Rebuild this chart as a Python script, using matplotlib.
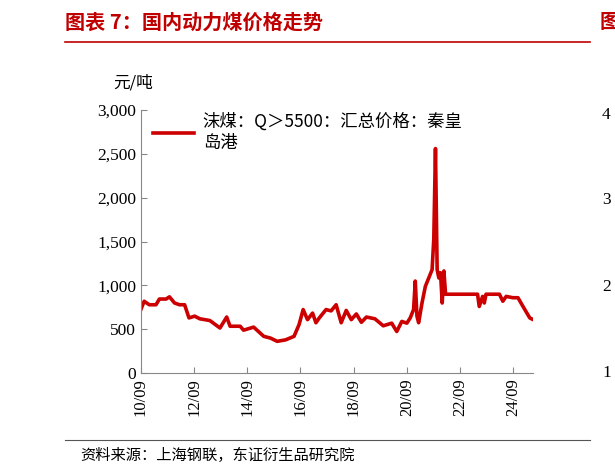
import matplotlib
matplotlib.use("Agg")
import matplotlib.pyplot as plt
from matplotlib.ticker import FuncFormatter

xz = [35,45,60,80,90,110,120,135,150,165,178,195,210,240,270,290,300,330,340,370,400,420,440,465,490,505,517,530,545,555,565,585,600,615,630,645,660,675,690,705,730,755,780,795,810,825,835,845,850,855,860,870,880,890,900,905,910,915,920,925,930,935,940,1035,1040,1050,1055,1060,1100,1110,1120,1140,1155,1170,1190,1200,1210]
values = [725,820,780,780,845,845,870,800,780,780,630,650,620,600,515,640,535,535,490,525,420,400,363,380,420,555,725,610,685,575,630,725,710,780,575,715,610,675,580,640,620,540,570,475,590,570,630,725,1050,650,575,800,990,1085,1180,1530,2560,1180,1085,1145,800,1165,900,900,760,875,800,900,900,820,875,860,860,760,630,610,650]
years = [2010.75 + (x - 35) / 79.0 for x in xz]
tick_pos = [2010.75 + 2 * i for i in range(8)]
tick_labels = ["10/09", "12/09", "14/09", "16/09", "18/09", "20/09", "22/09", "24/09"]
yticks = [0, 500, 1000, 1500, 2000, 2500, 3000]
series_label = "沫煤：Q＞5500：汇总价格：秦皇\n岛港"

cjk = ["Noto Sans CJK SC", "DejaVu Sans"]
serif = ["Liberation Serif", "Noto Sans CJK SC"]

fig = plt.figure(figsize=(6.15, 4.76), dpi=100)
ax = fig.add_axes([0.229, 0.216, 0.638, 0.553])
ax.plot(years, values, color="#cc0000", lw=2.6, label=series_label)
ax.set_xlim(2010.75, 2025.5)
ax.set_ylim(0, 3000)
ax.set_xticks(tick_pos)
ax.set_xticklabels(tick_labels, rotation=90, fontfamily=serif, fontsize=12)
ax.set_yticks(yticks)
ax.yaxis.set_major_formatter(FuncFormatter(lambda v, p: f"{int(v):,}"))
for t in ax.get_yticklabels():
    t.set_fontfamily(serif); t.set_fontsize(12.5)
ax.tick_params(direction="in", length=4, color="#888888")
for s in ["top", "right"]:
    ax.spines[s].set_visible(False)
for s in ["left", "bottom"]:
    ax.spines[s].set_color("#888888")
leg = ax.legend(loc="upper left", frameon=False, prop={"family": cjk, "size": 12.5},
                bbox_to_anchor=(-0.01, 1.05), handlelength=2.4, handletextpad=0.5)
ax.text(-0.07, 1.07, "元/吨", transform=ax.transAxes, fontfamily=cjk, fontsize=12, ha="left", va="bottom")

fig.text(65/615, 1-22/476, "图表 7：国内动力煤价格走势", color="#c00000", fontsize=14.5,
         fontweight="bold", fontfamily=cjk, va="center")
fig.add_artist(plt.Line2D([65/615, 590/615], [1-42/476]*2, color="#c00000", lw=1.2))
fig.add_artist(plt.Line2D([65/615, 590/615], [1-440/476]*2, color="#555555", lw=0.8))
fig.text(80/615, 1-455/476, "资料来源：上海钢联，东证衍生品研究院", fontsize=11, fontfamily=cjk, va="center")
fig.text(600/615, 1-22/476, "图", color="#c00000", fontsize=14.5, fontweight="bold", fontfamily=cjk, va="center")
for lab, yy in [("4", 115), ("3", 200), ("2", 287), ("1", 373)]:
    fig.text(602/615, 1-yy/476, lab, fontsize=12.5, fontfamily=serif, va="center")
fig.savefig("out.png", dpi=100)
